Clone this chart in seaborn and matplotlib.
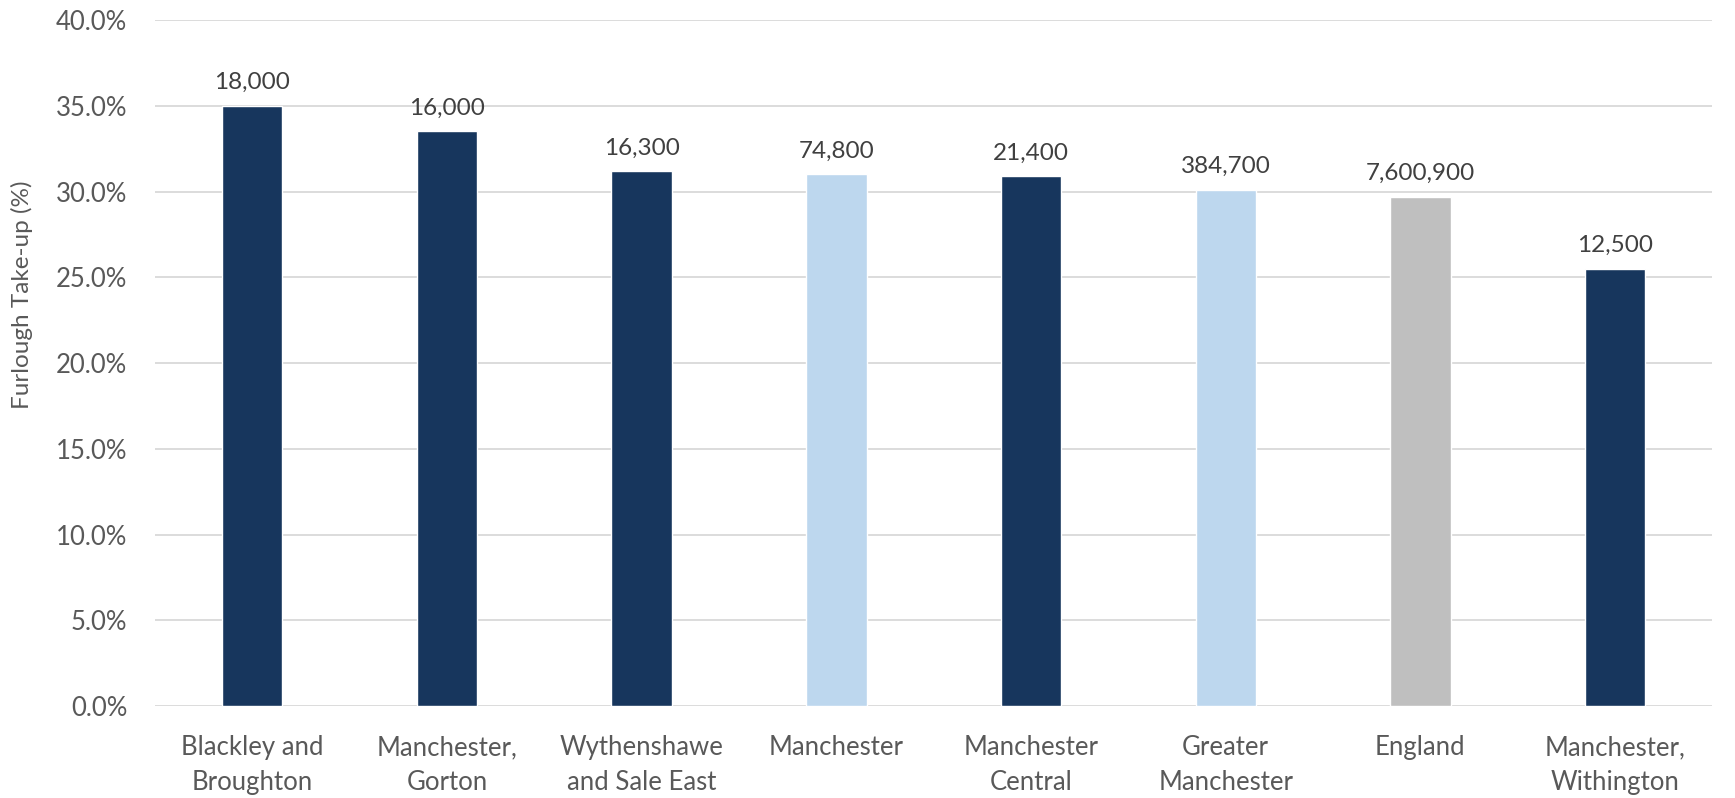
import seaborn as sns
import matplotlib.pyplot as plt
import pandas as pd
from matplotlib.ticker import PercentFormatter

areas = ["Blackley and\nBroughton", "Manchester,\nGorton", "Wythenshawe\nand Sale East",
         "Manchester", "Manchester\nCentral", "Greater\nManchester", "England",
         "Manchester,\nWithington"]
takeup = [35.0, 33.5, 31.2, 31.0, 30.9, 30.1, 29.7, 25.5]
furloughed = ["18,000", "16,000", "16,300", "74,800", "21,400", "384,700", "7,600,900", "12,500"]
bar_colours = ["#17365D", "#17365D", "#17365D", "#BDD7EE", "#17365D", "#BDD7EE", "#BFBFBF", "#17365D"]

df = pd.DataFrame({"area": areas, "takeup": takeup})

sns.set_style("white")
plt.rcParams["font.family"] = ["Lato", "DejaVu Sans"]
text_col = "#595959"

fig, ax = plt.subplots(figsize=(17.35, 7.98), dpi=100)
fig.subplots_adjust(left=0.0893, right=0.987, top=0.975, bottom=0.115)

sns.barplot(data=df, x="area", y="takeup", hue="area", palette=bar_colours,
            legend=False, width=0.31, saturation=1, ax=ax)

for cont, lab in zip(ax.containers, furloughed):
    ax.bar_label(cont, labels=[lab], padding=9, fontsize=17.5, color="#404040")

ax.set_ylim(0, 40)
ax.set_yticks(range(0, 41, 5))
ax.yaxis.set_major_formatter(PercentFormatter(decimals=1))
ax.grid(axis="y", color="#D9D9D9", linewidth=1.3)
ax.set_axisbelow(True)
sns.despine(ax=ax, left=True, bottom=True)
ax.set_xlabel("")
ax.set_ylabel("Furlough Take-up (%)", fontsize=17.5, color=text_col, va="center")
ax.yaxis.set_label_coords(-0.0855, 0.6)
ax.tick_params(axis="both", length=0, labelsize=18.5, labelcolor=text_col)
ax.tick_params(axis="y", pad=20)
ax.tick_params(axis="x", pad=21)
for lbl in ax.get_xticklabels():
    lbl.set_linespacing(1.5)
ax.set_xlim(-0.5, 7.5)

fig.savefig("out.png", dpi=100)
